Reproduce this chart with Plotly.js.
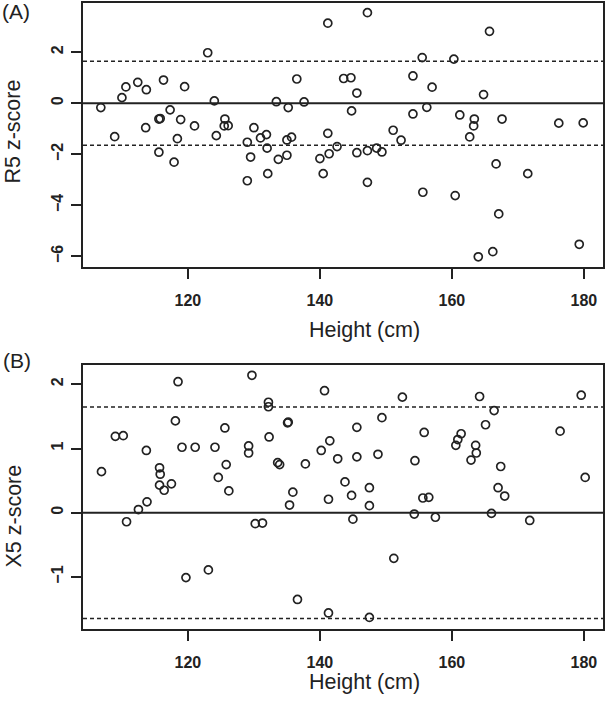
<!DOCTYPE html>
<html>
<head>
<meta charset="utf-8">
<script src="https://cdn.plot.ly/plotly-3.0.1.min.js"></script>
<style>html,body{margin:0;padding:0;background:#fff;}#chart{width:608px;height:704px;}</style>
</head>
<body>
<div id="chart"></div>
<script>
// Panel A: R5 z-score vs height
const heightA = [106.8,108.9,110.0,110.6,112.4,113.6,113.7,115.6,115.8,115.6,116.3,117.3,117.9,118.4,118.9,119.5,121.0,123.0,124.0,124.3,125.5,125.6,126.1,129.0,129.0,129.5,130.0,131.0,131.9,132.0,132.1,133.4,133.7,135.0,135.0,135.2,135.7,136.5,137.6,140.0,140.5,141.2,141.2,141.4,142.6,143.6,144.7,144.8,145.6,145.6,147.2,147.2,147.2,148.6,149.4,151.1,152.3,154.1,154.1,155.5,155.6,156.2,157.0,160.3,160.5,161.2,162.7,163.3,163.4,164.0,164.8,165.7,166.2,166.7,167.1,167.6,171.5,176.2,179.3,179.9];
const r5 = [-0.17,-1.31,0.22,0.64,0.82,-0.96,0.53,-0.62,-0.60,-1.92,0.91,-0.26,-2.31,-1.39,-0.64,0.65,-0.89,1.98,0.09,-1.27,-0.89,-0.62,-0.88,-1.53,-3.04,-2.11,-0.96,-1.36,-1.23,-1.76,-2.76,0.06,-2.20,-2.04,-1.44,-0.17,-1.33,0.95,0.05,-2.17,-2.76,3.14,-1.18,-1.98,-1.70,0.97,1.00,-0.30,0.40,-1.94,3.55,-1.86,-3.10,-1.76,-1.91,-1.06,-1.45,1.07,-0.42,1.79,-3.49,-0.16,0.63,1.73,-3.62,-0.46,-1.32,-0.89,-0.62,-6.02,0.34,2.82,-5.82,-2.38,-4.34,-0.62,-2.76,-0.78,-5.53,-0.77];

// Panel B: X5 z-score vs height
const heightB = [106.9,109.0,110.2,110.7,112.5,113.7,113.8,115.7,115.8,115.7,116.4,117.5,118.1,118.5,119.1,119.7,121.1,123.1,124.1,124.6,125.6,125.8,126.2,129.2,129.2,129.7,130.2,131.3,132.2,132.2,132.3,133.6,133.9,135.1,135.2,135.4,135.9,136.6,137.8,140.2,140.7,141.3,141.3,141.5,142.7,143.8,144.8,145.0,145.6,145.6,147.5,147.5,147.5,148.8,149.4,151.2,152.5,154.3,154.4,155.6,155.8,156.5,157.5,160.6,160.9,161.4,162.9,163.6,163.7,164.2,165.1,166.0,166.4,167.0,167.4,168.0,171.8,176.4,179.6,180.2];
const x5 = [0.64,1.19,1.20,-0.14,0.05,0.97,0.17,0.70,0.60,0.43,0.35,0.45,1.43,2.04,1.02,-1.01,1.02,-0.89,1.02,0.55,1.32,0.75,0.34,1.04,0.93,2.14,-0.17,-0.16,1.72,1.65,1.18,0.78,0.75,1.40,1.41,0.12,0.32,-1.35,0.76,0.97,1.90,0.21,-1.56,1.12,0.84,0.48,0.27,-0.10,1.33,0.87,0.39,0.11,-1.63,0.91,1.48,-0.71,1.80,-0.02,0.81,0.23,1.25,0.24,-0.07,1.05,1.14,1.23,0.82,1.05,0.93,1.81,1.37,-0.01,1.59,0.39,0.72,0.26,-0.12,1.27,1.83,0.55];

const xTicks = [120,140,160,180];
const yTicksA = [-6,-4,-2,0,2];
const yTicksB = [-1,0,1,2];
const limit = 1.645;

const ink = '#222';
const fam = 'Liberation Sans, Arial, Helvetica, sans-serif';
const marker = {symbol:'circle-open', size:8, color:ink, line:{width:1.7, color:ink}};

const traces = [
  {x:heightA, y:r5, type:'scatter', mode:'markers', marker:marker, xaxis:'x', yaxis:'y', hoverinfo:'x+y'},
  {x:heightB, y:x5, type:'scatter', mode:'markers', marker:marker, xaxis:'x2', yaxis:'y2', hoverinfo:'x+y'}
];

const bold = v => '<b>' + String(v).replace('-', '\u2212') + '</b>';
const tickFont = {family:fam, size:16, weight:'bold', color:ink};
function xax(anchor){
  return {anchor:anchor, domain:[0,1], range:[104.1,182.9], tickvals:xTicks, ticktext:xTicks.map(bold), ticks:'outside', ticklen:10, tickwidth:2, tickcolor:ink,
    showline:true, mirror:true, linewidth:2, linecolor:ink, showgrid:false, zeroline:false, tickfont:tickFont, ticklabelstandoff:8, fixedrange:true};
}
function yax(anchor, dom, rng, tv){
  return {anchor:anchor, domain:dom, range:rng, tickvals:tv, ticktext:tv.map(bold), ticks:'outside', ticklen:10, tickwidth:2, tickcolor:ink, tickangle:-90,
    showline:true, mirror:true, linewidth:2, linecolor:ink, showgrid:false, zeroline:false, tickfont:tickFont, ticklabelstandoff:2, fixedrange:true};
}

function hline(xr, yr, yv, dash, w){
  return {type:'line', xref:xr+' domain', yref:yr, x0:0, x1:1, y0:yv, y1:yv, line:{color:ink, width:w, dash:dash}, layer:'below'};
}

const titleFont = {family:fam, size:21.5, color:ink};
const layout = {
  width:608, height:704,
  margin:{l:83, r:5, t:3, b:75},
  paper_bgcolor:'#fff', plot_bgcolor:'#fff',
  showlegend:false,
  xaxis: xax('y'),
  yaxis: yax('x', [0.5783,1], [-6.42,3.93], yTicksA),
  xaxis2: xax('y2'),
  yaxis2: yax('x2', [0,0.4217], [-1.81,2.30], yTicksB),
  shapes:[
    hline('x','y',0,'solid',2),
    hline('x','y',limit,'4px,3px',1.5),
    hline('x','y',-limit,'4px,3px',1.5),
    hline('x2','y2',0,'solid',2),
    hline('x2','y2',limit,'4px,3px',1.5),
    hline('x2','y2',-limit,'4px,3px',1.5)
  ],
  annotations:[
    {text:'(A)', xref:'paper', yref:'paper', x:-0.1288, y:0.987, xanchor:'center', yanchor:'middle', showarrow:false, font:{family:fam, size:21, color:ink}},
    {text:'(B)', xref:'paper', yref:'paper', x:-0.127, y:0.4297, xanchor:'center', yanchor:'middle', showarrow:false, font:{family:fam, size:21, color:ink}},
    {text:'R5 z-score', xref:'paper', yref:'paper', x:-0.1346, y:0.7947, xanchor:'center', yanchor:'middle', textangle:-90, showarrow:false, font:titleFont},
    {text:'X5 z-score', xref:'paper', yref:'paper', x:-0.1346, y:0.1797, xanchor:'center', yanchor:'middle', textangle:-90, showarrow:false, font:titleFont},
    {text:'Height (cm)', xref:'paper', yref:'paper', x:0.5417, y:0.4776, xanchor:'center', yanchor:'middle', showarrow:false, font:titleFont},
    {text:'Height (cm)', xref:'paper', yref:'paper', x:0.5417, y:-0.0842, xanchor:'center', yanchor:'middle', showarrow:false, font:titleFont}
  ]
};

Plotly.newPlot('chart', traces, layout, {displayModeBar:false, staticPlot:true});
</script>
</body>
</html>
